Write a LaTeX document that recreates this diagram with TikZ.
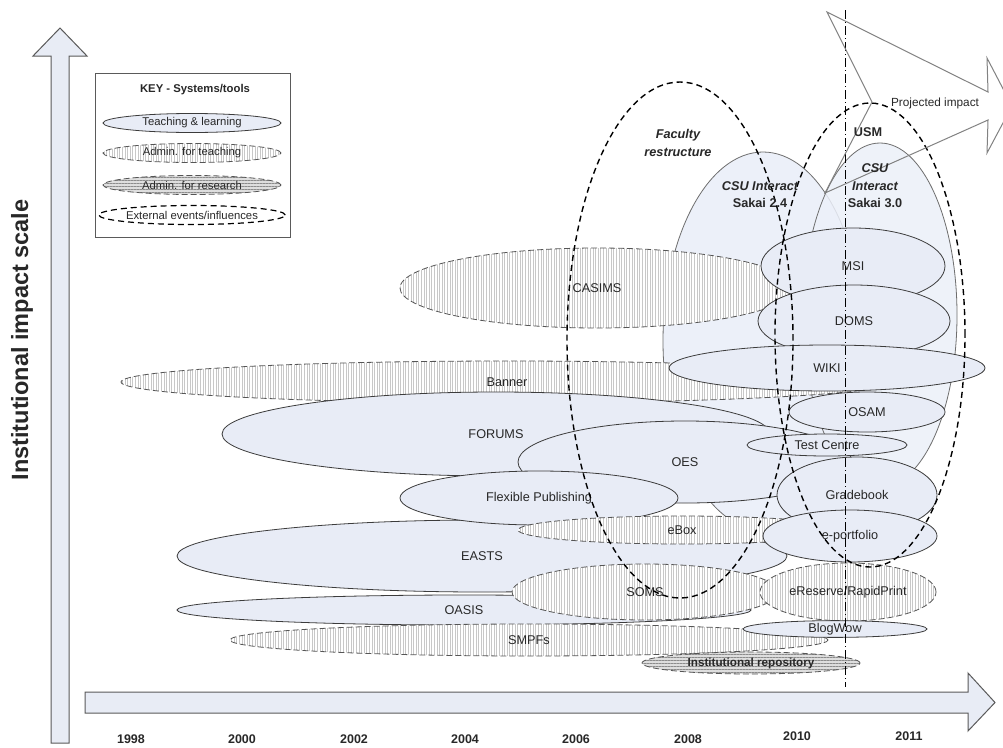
\documentclass[tikz,border=0pt]{standalone}
\usepackage{fontspec}
\setmainfont{Liberation Sans}
\usetikzlibrary{shapes.geometric,patterns.meta}
\definecolor{tlfill}{RGB}{232,236,246}
\definecolor{sakfill}{RGB}{236,240,249}
\definecolor{tlline}{RGB}{60,60,60}
\definecolor{sakline}{RGB}{110,110,110}
\definecolor{admline}{RGB}{85,85,85}
\definecolor{hatch}{RGB}{200,200,200}
\definecolor{resfill}{RGB}{222,222,222}
\definecolor{reshatch}{RGB}{140,140,140}
\definecolor{txt}{RGB}{40,40,40}
\definecolor{axfill}{RGB}{232,236,245}
\definecolor{axline}{RGB}{90,90,90}
\definecolor{arrline}{RGB}{130,130,130}
\newcommand\lblfont{\fontsize{12.7}{15}\selectfont}
\newcommand\keyfont{\fontsize{11.3}{13}\selectfont}
\newcommand\yearfont{\fontsize{12.5}{15}\selectfont\bfseries}
\newcommand\axisfont{\fontsize{23.5}{27}\selectfont\bfseries}
\begin{document}
\begin{tikzpicture}[x=1pt,y=-1pt,
  every node/.style={inner sep=0pt,outer sep=0pt},
  axisarrow/.style={fill=axfill,draw=axline,line width=1pt,line join=miter},
  keybox/.style={rectangle,draw=axline,line width=1pt,fill=white},
  tlbox/.style={ellipse,draw=tlline,line width=0.8pt,fill=tlfill,text=txt,font=\lblfont},
  sakbox/.style={ellipse,draw=sakline,line width=0.8pt,fill=sakfill},
  admteach/.style={ellipse,draw=admline,line width=0.8pt,dash pattern=on 6pt off 3pt,
    preaction={fill=white},pattern={Lines[angle=90,distance=2.6pt,line width=0.5pt]},
    pattern color=hatch,text=txt,font=\lblfont},
  admres/.style={ellipse,draw=admline,line width=0.8pt,dash pattern=on 6pt off 3pt,
    preaction={fill=resfill},pattern={Lines[angle=0,distance=3pt,line width=0.6pt]},
    pattern color=reshatch,text=txt,font=\fontsize{11.7}{14}\selectfont\bfseries},
  extev/.style={ellipse,draw=black,line width=1.4pt,dash pattern=on 6pt off 4pt},
  lbl/.style={text=txt,font=\lblfont},
  boldlbl/.style={text=txt,font=\lblfont\bfseries},
  itlbl/.style={text=txt,font=\lblfont\bfseries\itshape},
  yearlbl/.style={text=txt,font=\yearfont},
  dashdot/.style={draw=black,line width=0.8pt,dash pattern=on 9pt off 3pt on 1pt off 3pt},
  projarrow/.style={draw=arrline,line width=1pt,line join=miter}
]
\useasboundingbox (0,0) rectangle (1003,747);
\clip (0,0) rectangle (1003,747);
\fill[white] (0,0) rectangle (1003,747);

% axes
\draw[axisarrow] (51,743) -- (51,56) -- (33,56) -- (60,28) -- (87,56) -- (69,56) -- (69,743) -- cycle;
\draw[axisarrow] (85,692) -- (968,692) -- (968,673) -- (995,702.5) -- (968,731) -- (968,713) -- (85,713) -- cycle;

% key
\node[keybox,minimum width=195pt,minimum height=164pt] (key) at (192.5,155) {};
\node[text=txt,font=\keyfont\bfseries] (keytitle) at (195,90) {KEY - Systems/tools};
\node[tlbox,font=\keyfont,minimum width=178pt,minimum height=19pt] (k1) at (192,123) {Teaching \& learning};
\node[admteach,font=\keyfont,minimum width=178pt,minimum height=19pt] (k2) at (192,153) {Admin. for teaching};
\node[admres,font=\keyfont,minimum width=178pt,minimum height=19pt] (k3) at (192,185) {Admin. for research};
\node[extev,line width=1.2pt,text=txt,font=\keyfont,minimum width=178pt,minimum height=19pt] (k4) at (192,215) {External events/influences};

% Sakai background shapes
\node[sakbox,minimum width=200pt,minimum height=378pt] (sak24) at (763,341) {};
\node[sakbox,fill opacity=0.85,minimum width=154pt,minimum height=344pt] (sak30) at (880,315) {};

% systems
\node[admteach,minimum width=394pt,minimum height=80pt] (casims) at (597,288) {CASIMS};
\node[tlbox,minimum width=184pt,minimum height=76pt] (msi) at (853,266) {MSI};
\node[tlbox,minimum width=192pt,minimum height=72pt] (doms) at (854,321) {DOMS};
\node[admteach,minimum width=772pt,minimum height=42pt] (banner) at (507,382) {Banner};
\node[tlbox,minimum width=316pt,minimum height=46pt] (wiki) at (827,368) {WIKI};
\node[tlbox,minimum width=156pt,minimum height=40pt] (osam) at (867,412) {OSAM};
\node[tlbox,minimum width=548pt,minimum height=84pt] (forums) at (496,434) {FORUMS};
\node[tlbox,minimum width=334pt,minimum height=82pt] (oes) at (685,462) {OES};
\node[tlbox,minimum width=160pt,minimum height=22pt] (testc) at (827,445) {Test Centre};
\node[tlbox,minimum width=160pt,minimum height=76pt] (grade) at (857,495) {Gradebook};
\node[tlbox,minimum width=610pt,minimum height=72pt] (easts) at (482,556) {EASTS};
\node[tlbox,minimum width=278pt,minimum height=54pt] (flex) at (539,498) {Flexible Publishing};
\node[admteach,minimum width=328pt,minimum height=28pt] (ebox) at (682,530) {eBox};
\node[tlbox,minimum width=174pt,minimum height=52pt] (eport) at (850,536) {e-portfolio};
\node[tlbox,minimum width=574pt,minimum height=30pt] (oasis) at (464,610) {OASIS};
\node[admteach,minimum width=266pt,minimum height=56pt] (soms) at (645,592) {SOMS};
\node[admteach,minimum width=176pt,minimum height=58pt] (ereserve) at (848,592) {eReserve/RapidPrint};
\node[admteach,minimum width=598pt,minimum height=32pt] (smpfs) at (529,640) {SMPFs};
\node[tlbox,minimum width=184pt,minimum height=16pt] (blogwow) at (835,629) {BlogWow};
\node[admres,minimum width=218pt,minimum height=22pt] (irepo) at (751,663) {Institutional repository};

% external events
\node[extev,minimum width=226pt,minimum height=516pt] (faculty) at (680,340) {};
\node[extev,minimum width=190pt,minimum height=464pt] (usm) at (870,335) {};

% 2010/2011 boundary
\coordinate (dtop) at (845,10);
\coordinate (dbot) at (845,687);
\draw[dashdot] (dtop) -- (dbot);

% projected impact arrow
\draw[projarrow] (827,12) -- (988,92) -- (987,58) -- (1012,106) -- (987,153) -- (988,120) -- (825,193) -- (872,102) -- cycle;

% labels
\node[itlbl] (fac1) at (678,135) {Faculty};
\node[itlbl] (fac2) at (678,152) {restructure};
\node[boldlbl] (usmlbl) at (868,132) {USM};
\node[itlbl] (s24a) at (760,186) {CSU Interact};
\node[boldlbl] (s24b) at (760,203) {Sakai 2.4};
\node[itlbl] (s30a) at (875,168) {CSU};
\node[itlbl] (s30b) at (875,186) {Interact};
\node[boldlbl] (s30c) at (875,203) {Sakai 3.0};
\node[text=txt,font=\fontsize{11.8}{14}\selectfont] (proj) at (935,103) {Projected impact};

% years
\node[yearlbl] (y1998) at (131,739) {1998};
\node[yearlbl] (y2000) at (242,739) {2000};
\node[yearlbl] (y2002) at (354,739) {2002};
\node[yearlbl] (y2004) at (465,739) {2004};
\node[yearlbl] (y2006) at (576,739) {2006};
\node[yearlbl] (y2008) at (688,739) {2008};
\node[yearlbl] (y2010) at (797,736) {2010};
\node[yearlbl] (y2011) at (909,736) {2011};

% axis label
\node[text=txt,font=\axisfont,rotate=90] (ylabel) at (22,340) {Institutional impact scale};
\end{tikzpicture}
\end{document}
